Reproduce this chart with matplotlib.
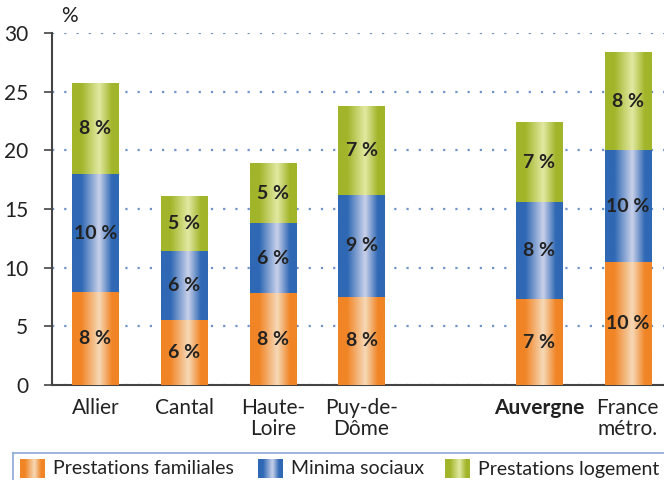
import numpy as np
import matplotlib
matplotlib.use("Agg")
import matplotlib.pyplot as plt
from matplotlib.colors import LinearSegmentedColormap

plt.rcParams['font.family'] = ['Lato', 'DejaVu Sans']

# data
regions = ["Allier", "Cantal", "Haute-\nLoire", "Puy-de-\nDôme", "Auvergne", "France\nmétro."]
positions = [0, 1, 2, 3, 5, 6]
familiales = [7.9, 5.5, 7.8, 7.5, 7.3, 10.5]
minima = [10.1, 5.9, 6.0, 8.7, 8.3, 9.5]
logement = [7.7, 4.7, 5.1, 7.6, 6.8, 8.4]
lab_fam = ["8 %", "6 %", "8 %", "8 %", "7 %", "10 %"]
lab_min = ["10 %", "6 %", "6 %", "9 %", "8 %", "10 %"]
lab_log = ["8 %", "5 %", "5 %", "7 %", "7 %", "8 %"]
series_names = ["Prestations familiales", "Minima sociaux", "Prestations logement"]

# (edge colour, centre colour)
colours = [("#F18526", "#F6D9B8"), ("#2F68B4", "#C9D1EA"), ("#A2B52A", "#E2E9A2")]

def grad_cmap(edge, centre):
    # dark plateau on both sides, light streak a bit right of centre
    return LinearSegmentedColormap.from_list(
        "g", [(0, edge), (0.2, edge), (0.58, centre), (0.85, edge), (1, edge)])

grad = np.linspace(0, 1, 256).reshape(1, -1)

fig = plt.figure(figsize=(6.64, 4.8), dpi=100)
ax = fig.add_axes([52 / 664, 95 / 480, 612 / 664, 352 / 480])

width = 0.52
bottom = np.zeros(len(positions))
for vals, labs, (edge, centre) in zip([familiales, minima, logement],
                                      [lab_fam, lab_min, lab_log], colours):
    cmap = grad_cmap(edge, centre)
    bars = ax.bar(positions, vals, width, bottom=bottom, color=edge, linewidth=0, zorder=2)
    for bar, lab in zip(bars, labs):
        x0, y0 = bar.get_x(), bar.get_y()
        w, h = bar.get_width(), bar.get_height()
        im = ax.imshow(grad, cmap=cmap, aspect='auto', extent=[x0, x0 + w, y0, y0 + h],
                       zorder=3, interpolation='bicubic')
        im.set_clip_path(bar)
        ax.text(x0 + w / 2, y0 + h / 2, lab, ha='center', va='center',
                fontsize=14, fontweight='bold', color='#222222', zorder=4)
    bottom += np.array(vals)

ax.set_yticks(range(0, 31, 5))
ax.set_xticks(positions)
ax.set_xticklabels(regions, fontsize=15, color='#222222', va='top', linespacing=1.1)
ax.get_xticklabels()[4].set_fontweight('bold')
ax.tick_params(axis='x', length=0, pad=9)
ax.tick_params(axis='y', length=6, width=1.2, color='#444444', labelsize=15,
               labelcolor='#222222', direction='out', pad=11)
ax.yaxis.grid(True, linestyle=(0, (1, 4.5)), color='#6E93C8', linewidth=1.6, zorder=1)
ax.set_axisbelow(True)
for s in ['top', 'right']:
    ax.spines[s].set_visible(False)
ax.spines['left'].set_color('#444444')
ax.spines['left'].set_linewidth(1.5)
ax.spines['bottom'].set_color('#444444')
ax.spines['bottom'].set_linewidth(1.5)
ax.set_xlim(-0.49, 6.41)
ax.set_ylim(0, 30)

fig.text(61 / 664, 1 - 16 / 480, "%", fontsize=15, color='#222222', va='center')

# legend box
lax = fig.add_axes([13 / 664, 0, 660 / 664, 27 / 480])
lax.set_xticks([])
lax.set_yticks([])
for s in lax.spines.values():
    s.set_color('#8FA8D8')
    s.set_linewidth(1.2)
lax.spines['right'].set_visible(False)
lax.spines['bottom'].set_visible(False)
leg_x = [7, 245, 432]
for x, name, (edge, centre) in zip(leg_x, series_names, colours):
    lax.imshow(grad, cmap=grad_cmap(edge, centre), aspect='auto',
               extent=[x, x + 25, 2, 21], interpolation='bicubic')
    lax.text(x + 33, 11, name, fontsize=14, color='#222222', va='center')
lax.set_xlim(0, 660)
lax.set_ylim(0, 27)

fig.savefig("out.png", dpi=100)
